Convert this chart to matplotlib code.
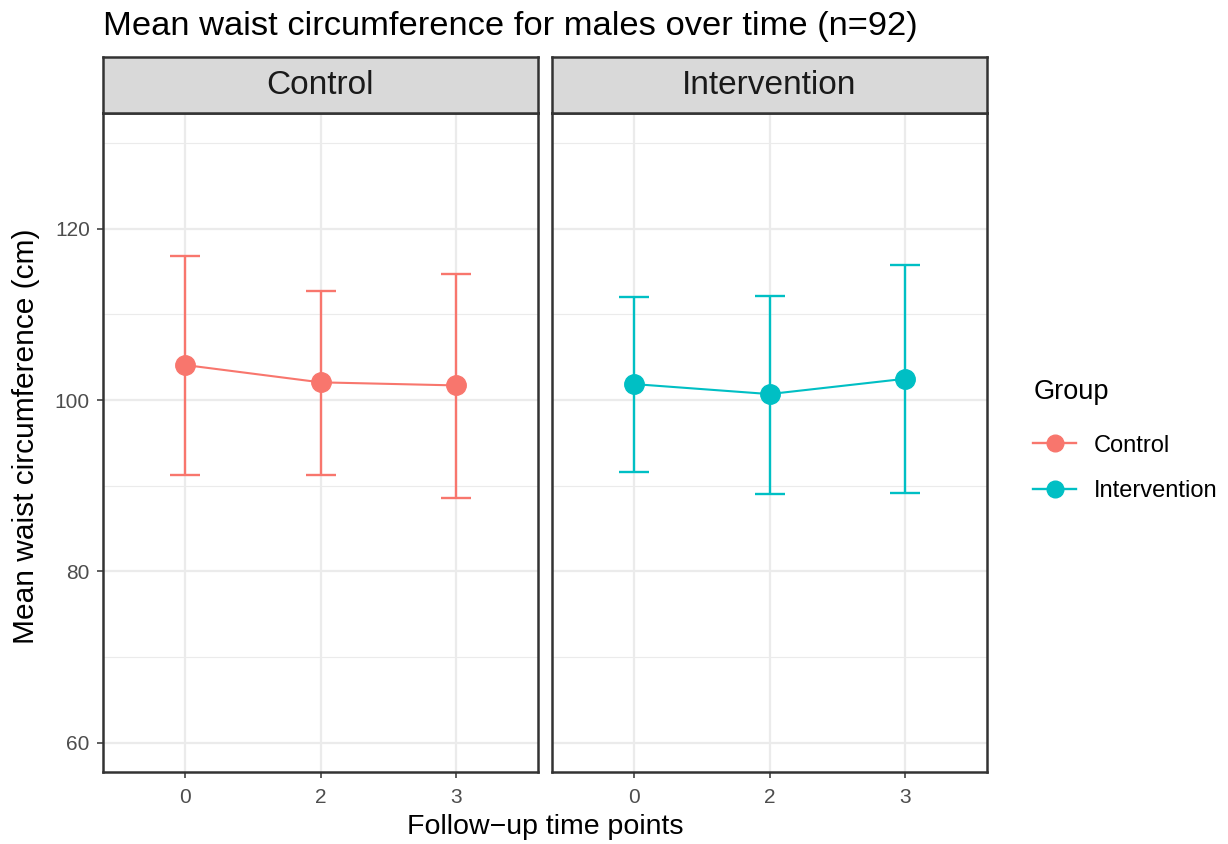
import matplotlib
matplotlib.use("Agg")
import matplotlib.pyplot as plt
from matplotlib.lines import Line2D

plt.rcParams['font.family'] = ['Liberation Sans', 'DejaVu Sans']

time_labels = ["0", "2", "3"]
groups = ["Control", "Intervention"]
colors = {"Control": "#F8766D", "Intervention": "#00BFC4"}
means = {"Control": [104.1, 102.07, 101.71], "Intervention": [101.87, 100.7, 102.49]}
lower = {"Control": [91.24, 91.24, 88.63], "Intervention": [91.66, 89.0, 89.2]}
upper = {"Control": [116.85, 112.76, 114.76], "Intervention": [112.0, 112.2, 115.8]}

W, H = 1228, 844
fig = plt.figure(figsize=(W / 100, H / 100), dpi=100)

def fx(px):
    return px / W

def fy(py):
    return 1 - py / H

panel_x = [(103, 538), (552, 987)]
top, bottom = 113, 772
strip_top = 57
border = "#333333"

for i, g in enumerate(groups):
    x0, x1 = panel_x[i]
    ax = fig.add_axes([fx(x0), fy(bottom), fx(x1 - x0), (bottom - top) / H])
    xs = list(range(1, len(time_labels) + 1))
    ax.set_xlim(0.4, 3.6)
    ax.set_ylim(56.6, 133.5)
    ax.set_yticks([60, 80, 100, 120])
    ax.set_yticks([70, 90, 110, 130], minor=True)
    ax.set_xticks(xs)
    ax.set_xticklabels(time_labels)
    ax.grid(True, which="major", color="#EBEBEB", linewidth=1.6)
    ax.grid(True, which="minor", axis="y", color="#EBEBEB", linewidth=0.8)
    ax.set_axisbelow(True)
    ax.tick_params(which="minor", length=0)
    ax.tick_params(which="major", length=4.5, width=1.1, color=border,
                   labelsize=15, labelcolor="#4D4D4D", pad=5)
    ax.tick_params(axis="x", pad=7)
    for s in ax.spines.values():
        s.set_color(border)
        s.set_linewidth(1.8)
    if i > 0:
        ax.tick_params(axis="y", left=False, labelleft=False)
    c = colors[g]
    m = means[g]
    yerr = [[m[k] - lower[g][k] for k in range(3)], [upper[g][k] - m[k] for k in range(3)]]
    ax.errorbar(xs, m, yerr=yerr, fmt="none", ecolor=c, elinewidth=1.7,
                capsize=10.5, capthick=1.7, zorder=3)
    ax.plot(xs, m, color=c, linewidth=1.5, zorder=4)
    ax.plot(xs, m, "o", color=c, markersize=14, zorder=5)
    if i == 0:
        ax.set_ylabel("Mean waist circumference (cm)", fontsize=21.5, color="black")
        ax.yaxis.set_label_coords(-0.145, 0.51)
    # strip
    sax = fig.add_axes([fx(x0), fy(top), fx(x1 - x0), (top - strip_top) / H])
    sax.set_facecolor("#D9D9D9")
    sax.set_xticks([])
    sax.set_yticks([])
    for s in sax.spines.values():
        s.set_color(border)
        s.set_linewidth(1.8)
    sax.text(0.5, 0.5, g, ha="center", va="center", fontsize=24,
             color="#1A1A1A", transform=sax.transAxes)

fig.text(fx(103), fy(27), "Mean waist circumference for males over time (n=92)",
         fontsize=24.8, ha="left", va="center", color="black")
fig.text(fx(545), fy(827), "Follow\u2212up time points", fontsize=20.5,
         ha="center", va="center", color="black")

handles = [Line2D([0], [0], color=colors[g], linewidth=1.7, marker="o",
                  markersize=12) for g in groups]
leg = fig.legend(handles, groups, title="Group", loc="upper left",
                 bbox_to_anchor=(fx(1024), fy(370)), frameon=False,
                 fontsize=17, title_fontsize=19.5, handlelength=1.8,
                 labelspacing=1.0, handletextpad=0.75, alignment="left",
                 borderaxespad=0)
leg._legend_box.sep = 21

fig.savefig("out.png", dpi=100, facecolor="white")
